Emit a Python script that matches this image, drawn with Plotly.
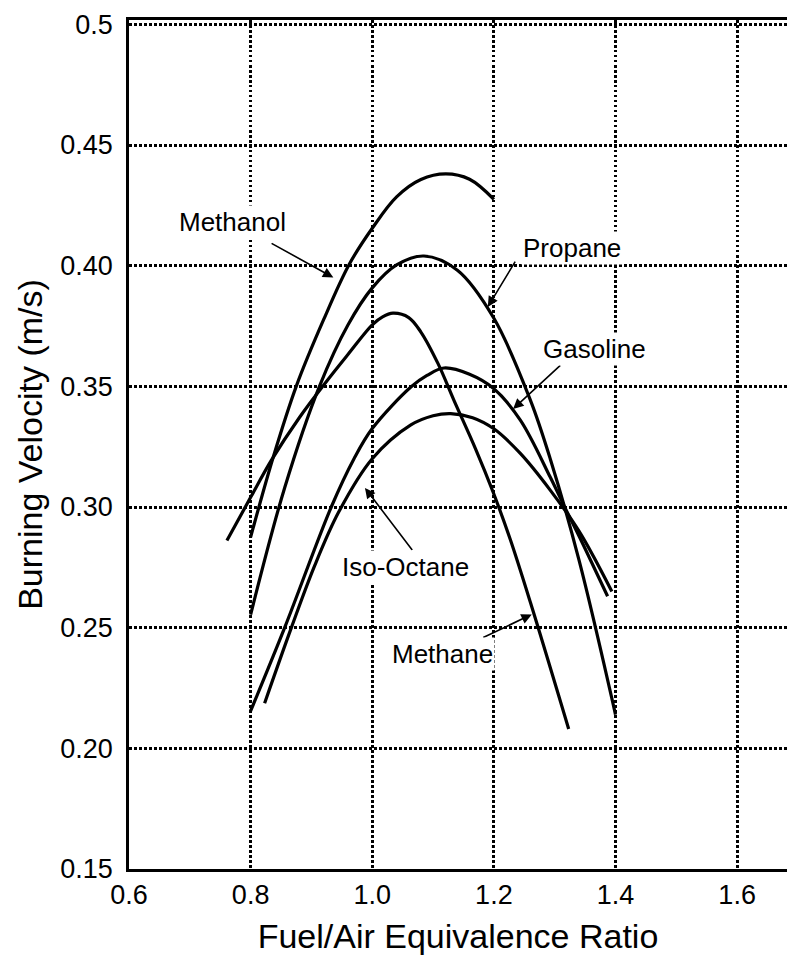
import plotly.graph_objects as go

# Laminar burning velocity vs. fuel/air equivalence ratio (1 atm)
methanol_phi = [0.800, 0.837, 0.875, 0.920, 0.962, 1.000, 1.040, 1.080, 1.121, 1.160, 1.200]
methanol_su = [0.2875, 0.3205, 0.3500, 0.3776, 0.4005, 0.4155, 0.4285, 0.4357, 0.4380, 0.4358, 0.4275]

propane_phi = [0.800, 0.856, 0.913, 0.960, 1.000, 1.040, 1.085, 1.140, 1.200, 1.260, 1.293, 1.340, 1.400]
propane_su = [0.2554, 0.308, 0.3499, 0.3754, 0.3908, 0.4003, 0.404, 0.3981, 0.3782, 0.3443, 0.3197, 0.278, 0.214]

methane_phi = [0.761, 0.800, 0.834, 0.880, 0.9215, 0.960, 1.000, 1.017, 1.034, 1.060, 1.080, 1.108,
               1.134, 1.170, 1.199, 1.227, 1.260, 1.323]
methane_su = [0.2861, 0.3040, 0.3193, 0.3370, 0.3510, 0.3632, 0.3755, 0.3788, 0.3803, 0.3785, 0.3725, 0.3595,
              0.3444, 0.3240, 0.3060, 0.2865, 0.2605, 0.2080]

gasoline_phi = [0.800, 0.856, 0.9326, 0.970, 1.000, 1.0635, 1.090, 1.118, 1.160, 1.200, 1.2435,
                1.2926, 1.3144, 1.340, 1.387]
gasoline_su = [0.2155, 0.2500, 0.3000, 0.3200, 0.3325, 0.3497, 0.3545, 0.3576, 0.3550, 0.3490, 0.3360,
               0.3124, 0.3010, 0.2880, 0.2630]

isooctane_phi = [0.823, 0.867, 0.905, 0.945, 1.000, 1.0635, 1.100, 1.129, 1.165, 1.200, 1.2435,
                 1.2926, 1.340, 1.394]
isooctane_su = [0.2187, 0.2500, 0.2755, 0.2980, 0.3200, 0.3340, 0.3378, 0.3387, 0.3370, 0.3324, 0.3222,
                0.3070, 0.2900, 0.2650]

x_ticks = [0.6, 0.8, 1.0, 1.2, 1.4, 1.6]
x_tick_text = ["0.6", "0.8", "1.0", "1.2", "1.4", "1.6"]
y_ticks = [0.15, 0.20, 0.25, 0.30, 0.35, 0.40, 0.45, 0.5]
y_tick_text = ["0.15", "0.20", "0.25", "0.30", "0.35", "0.40", "0.45", "0.5"]

# label text position, arrow tail, arrow head (data units)
labels = [
    ("Methanol", (0.771, 0.418), (0.832, 0.4096), (0.936, 0.3951)),
    ("Propane", (1.329, 0.4075), (1.2365, 0.4023), (1.190, 0.3829)),
    ("Gasoline", (1.366, 0.3655), (1.3117, 0.3593), (1.2316, 0.3406)),
    ("Iso-Octane", (1.0553, 0.2753), (1.0676, 0.2816), (0.988, 0.3079)),
    ("Methane", (1.1156, 0.239), (1.180, 0.2456), (1.2623, 0.2555)),
]

FONT = "Liberation Sans, Arial, sans-serif"

fig = go.Figure()
for phi, su, name in [
    (methanol_phi, methanol_su, "Methanol"),
    (propane_phi, propane_su, "Propane"),
    (methane_phi, methane_su, "Methane"),
    (gasoline_phi, gasoline_su, "Gasoline"),
    (isooctane_phi, isooctane_su, "Iso-Octane"),
]:
    fig.add_trace(go.Scatter(
        x=phi, y=su, name=name, mode="lines",
        line=dict(color="black", width=3.2, shape="spline", smoothing=1.0),
        showlegend=False, hoverinfo="skip",
    ))

annotations = []
for text, (tx, ty), (ax_, ay_), (hx, hy) in labels:
    annotations.append(dict(
        x=hx, y=hy, ax=ax_, ay=ay_, xref="x", yref="y", axref="x", ayref="y",
        text="", showarrow=True, arrowhead=2, arrowsize=1.3, arrowwidth=1.6,
        arrowcolor="black", standoff=0, startstandoff=0,
    ))
    annotations.append(dict(
        x=tx, y=ty, xref="x", yref="y", text=text, showarrow=False,
        font=dict(family=FONT, size=26, color="black"),
        bgcolor="white", borderpad=1,
    ))

fig.update_layout(
    width=787, height=962,
    margin=dict(l=129, r=0, t=20, b=93),
    paper_bgcolor="white", plot_bgcolor="white",
    annotations=annotations,
    font=dict(family=FONT, color="black"),
)

grid_style = dict(
    showgrid=True, gridcolor="black", gridwidth=2.5, griddash="2.5px,2.5px",
    showline=True, linecolor="black", linewidth=2.5,
    zeroline=False, automargin=False,
    tickfont=dict(family=FONT, size=27, color="black"),
)

fig.update_xaxes(
    range=[0.6, 1.682], tickvals=x_ticks, ticktext=x_tick_text,
    mirror=True, ticks="",
    title=dict(text="Fuel/Air Equivalence Ratio", font=dict(family=FONT, size=34), standoff=16),
    **grid_style,
)
fig.update_yaxes(
    range=[0.15, 0.5018], tickvals=y_ticks, ticktext=y_tick_text,
    ticks="outside", ticklen=8, tickcolor="rgba(0,0,0,0)",
    title=dict(text="Burning Velocity (m/s)", font=dict(family=FONT, size=34), standoff=8),
    **grid_style,
)

fig.write_html("out.html")
